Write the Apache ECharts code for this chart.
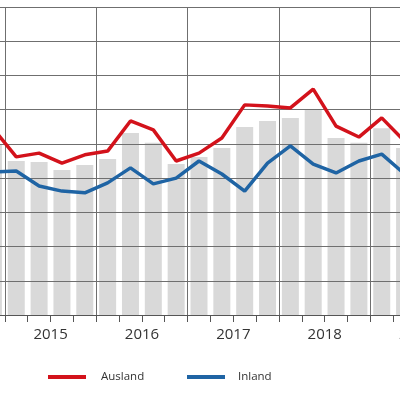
<!DOCTYPE html>
<html><head><meta charset="utf-8">
<script src="https://cdn.jsdelivr.net/npm/echarts@6/dist/echarts.min.js"></script>
<style>html,body{margin:0;padding:0;background:#fff;overflow:hidden;width:400px;height:395px;position:relative}#c{position:absolute;left:-18px;top:0;width:434px;height:395px}</style>
</head><body><div id="c"></div>
<script>
const categories = ['2014 Q4','2015 Q1','2015 Q2','2015 Q3','2015 Q4','2016 Q1','2016 Q2','2016 Q3','2016 Q4','2017 Q1','2017 Q2','2017 Q3','2017 Q4','2018 Q1','2018 Q2','2018 Q3','2018 Q4','2019 Q1','2019 Q2'];
const ausland = [54.4,46.2,47.3,44.4,46.8,47.9,56.7,54.1,45.0,47.3,51.7,61.4,61.1,60.5,66.0,55.2,52.0,57.6,50.8];
const inland  = [41.8,42.1,37.7,36.2,35.7,38.6,43.0,38.3,40.0,45.0,41.2,36.2,44.4,49.4,44.1,41.5,45.0,47.0,41.2];
const gesamt  = [49.7,45.0,44.7,42.4,43.8,45.6,53.2,50.3,44.1,46.2,48.8,54.9,56.7,57.6,60.2,51.7,50.3,54.6,48.8];
const yearTickLabels = ['2015','2016','2017','2018','2019'];

const chart = echarts.init(document.getElementById('c'), null, { width: 434, height: 395 });
const gridColor = '#6f6f6f';
chart.setOption({
  animation: false,
  textStyle: { fontFamily: 'Open Sans' },
  grid: { left: 0, right: 0, top: 7, bottom: 80, containLabel: false, outerBoundsMode: 'none' },
  legend: [
    { data: ['Ausland'], left: 61, top: 366, icon: 'rect', itemWidth: 38, itemHeight: 4, itemGap: 0,
      textStyle: { fontSize: 11.5, color: '#333', padding: [0,0,0,10] } },
    { data: ['Inland'], left: 200, top: 366, icon: 'rect', itemWidth: 38, itemHeight: 4, itemGap: 0,
      textStyle: { fontSize: 11.5, color: '#333', padding: [0,0,0,8] } }
  ],
  xAxis: {
    type: 'category', data: categories, boundaryGap: true, z: 3,
    axisLine: { show: true, lineStyle: { color: '#555', width: 1 } },
    axisTick: { show: true, interval: 0, length: 7, lineStyle: { color: '#555' } },
    axisLabel: {
      interval: (i, v) => v.endsWith('Q2'),
      formatter: (v) => { const y = v.slice(0,4); return yearTickLabels.includes(y) ? y : ''; },
      fontSize: 15, color: '#333', margin: 12, padding: [0,0,0,23]
    },
    splitLine: { show: true, interval: (i, v) => v.endsWith('Q1'), lineStyle: { color: gridColor, width: 1 } }
  },
  yAxis: {
    type: 'value', min: 0, max: 90, interval: 10, z: 3,
    axisLine: { show: false }, axisTick: { show: false }, axisLabel: { show: false },
    splitLine: { show: true, lineStyle: { color: gridColor, width: 1 } }
  },
  series: [
    { name: 'Gesamt', type: 'bar', data: gesamt, barWidth: 17, itemStyle: { color: 'rgba(120,120,120,0.28)' }, z: 1 },
    { name: 'Ausland', type: 'line', data: ausland, symbol: 'none', z: 5,
      lineStyle: { color: '#d3121b', width: 3.5 }, itemStyle: { color: '#d3121b' } },
    { name: 'Inland', type: 'line', data: inland, symbol: 'none', z: 5,
      lineStyle: { color: '#1f64a4', width: 3.5 }, itemStyle: { color: '#1f64a4' } }
  ]
});
</script></body></html>
